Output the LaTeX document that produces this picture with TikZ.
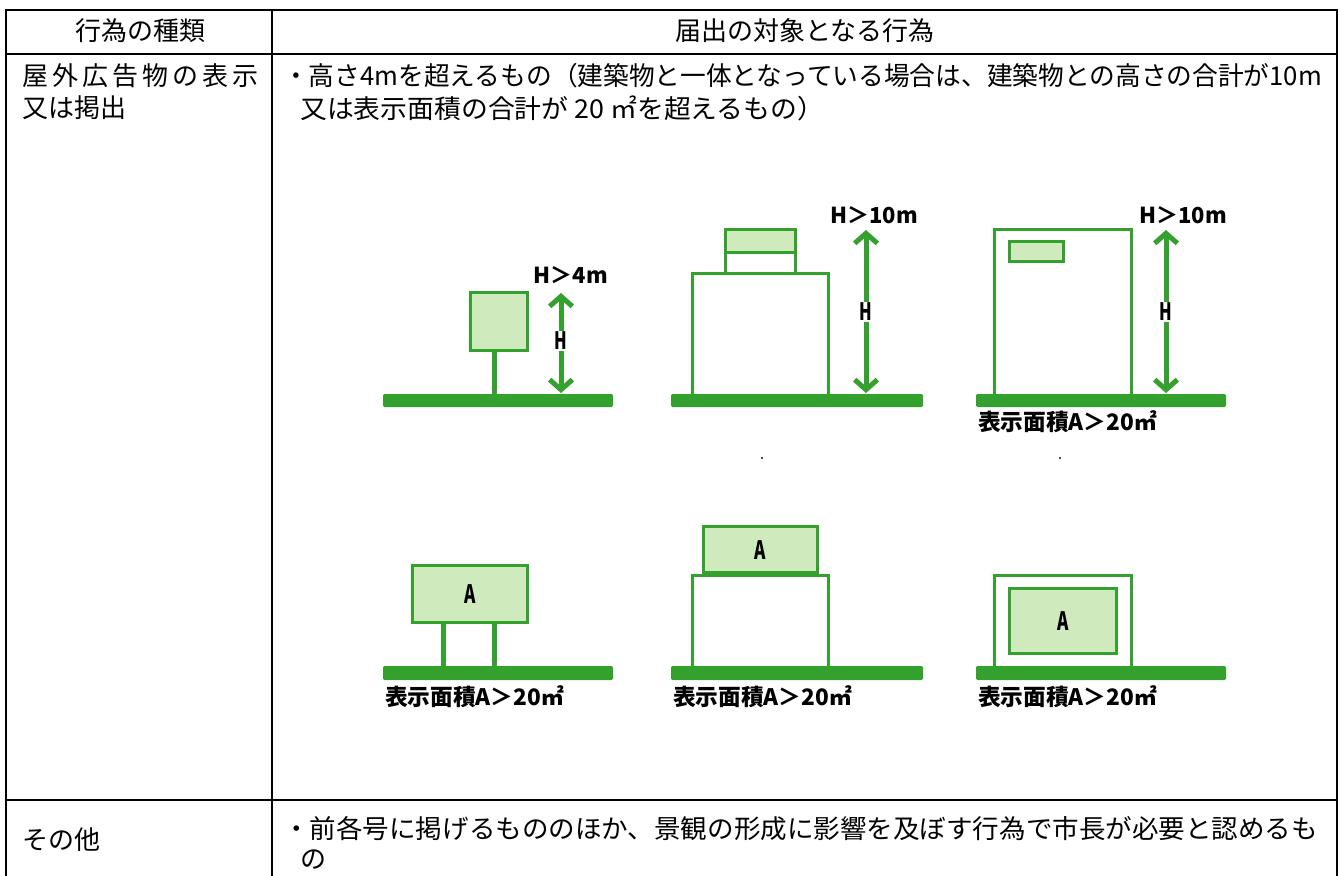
\documentclass[tikz,border=0pt]{standalone}
\usepackage{fontspec}
\setmainfont{Noto Sans CJK JP}
\usetikzlibrary{arrows.meta}
\definecolor{gr}{RGB}{52,160,46}
\definecolor{lg}{RGB}{207,235,189}
\tikzset{
  tbl/.style={line width=1.5pt, draw=black},
  tx/.style={font=\fontsize{19.5}{20}\selectfont, inner sep=0pt, anchor=west},
  hd/.style={font=\fontsize{19.5}{20}\selectfont, inner sep=0pt},
  gbar/.style={fill=gr, rounded corners=1pt},
  bld/.style={draw=gr, line width=2.25pt, fill=white},
  sgn/.style={draw=gr, line width=2.25pt, fill=lg},
  pst/.style={draw=gr, line width=3.75pt},
  conn/.style={draw=gr, line width=1.5pt},
  harrow/.style={draw=gr, line width=3.75pt, {Straight Barb[length=7.5pt,width=17pt]}-{Straight Barb[length=7.5pt,width=17pt]}},
  hl/.style={fill=white, inner xsep=0.5pt, inner ysep=1pt, font=\bfseries\fontsize{18}{18}\selectfont},
  al/.style={inner sep=0pt, font=\bfseries\fontsize{19}{19}\selectfont},
  hv/.style={inner sep=0pt, font=\bfseries\fontsize{16.5}{16.5}\selectfont},
  lbl/.style={inner sep=0pt, anchor=west, font=\bfseries\fontsize{17}{17}\selectfont},
  speck/.style={fill=black!70}
}
\newcommand{\nar}[1]{\scalebox{0.68}[1]{#1}}
\newcommand{\fitw}[2]{\resizebox{#1}{\height}{#2}}
\begin{document}
\begin{tikzpicture}[x=0.75pt, y=-0.75pt]
\useasboundingbox (0,0) rectangle (1341,875);
% ---------- table ----------
\draw[tbl] (6,880) -- (6,10) -- (1337,10) -- (1337,880);
\draw[tbl] (6,54) -- (1337,54);
\draw[tbl] (6,800) -- (1337,800);
\draw[tbl] (272,10) -- (272,880);
\node[hd] (h1) at (140,31) {行為の種類};
\node[hd] (h2) at (805,31) {届出の対象となる行為};
\node[tx] (c1a) at (22,76) {\makebox[177pt][l]{屋\hfill 外\hfill 広\hfill 告\hfill 物\hfill の\hfill 表\hfill 示}};
\node[tx] (c1b) at (22,108) {又は掲出};
\node[tx] (t1a) at (283,76) {\fitw{779pt}{・高さ4mを超えるもの（建築物と一体となっている場合は、建築物との高さの合計が10m}};
\node[tx] (t1b) at (300,108) {\fitw{393pt}{又は表示面積の合計が 20 ㎡を超えるもの）}};
\node[tx] (c2) at (22,840) {その他};
\node[tx] (t2a) at (283,829) {\fitw{776pt}{・前各号に掲げるもののほか、景観の形成に影響を及ぼす行為で市長が必要と認めるも}};
\node[tx] (t2b) at (300,860) {の};
% ---------- panel 1 ----------
\draw[pst] (494,350) -- (494,395);
\draw[sgn] (470,292) rectangle (527,350);
\fill[gbar] (383,394) rectangle (613,407);
\coordinate (a1t) at (561,293);
\coordinate (a1b) at (561,393);
\draw[harrow] (a1b) -- (a1t);
\node[hl] (H1) at (561,341) {\nar{H}};
\node[hv] (L1) at (571,275) {H＞4m};
% ---------- panel 2 ----------
\draw[bld] (692,273) rectangle (828,396);
\draw[bld] (725,252) rectangle (795,273);
\draw[sgn] (725,229) rectangle (795,252);
\fill[gbar] (671,394) rectangle (923,407);
\coordinate (a2t) at (866,230);
\coordinate (a2b) at (866,393);
\draw[harrow] (a2b) -- (a2t);
\node[hl] (H2) at (866,312) {\nar{H}};
\node[hv] (L2) at (874,215) {H＞10m};
\fill[speck] (761,457) rectangle (763,458.5);
% ---------- panel 3 ----------
\draw[bld] (994,229) rectangle (1131,396);
\draw[sgn] (1009,241) rectangle (1063,261);
\fill[gbar] (976,394) rectangle (1226,407);
\coordinate (a3t) at (1166,230);
\coordinate (a3b) at (1166,393);
\draw[harrow] (a3b) -- (a3t);
\node[hl] (H3) at (1166,312) {\nar{H}};
\node[hv] (L3) at (1183,215) {H＞10m};
\node[lbl] (S3) at (978,422) {表示面積A＞20㎡};
\fill[speck] (1059,457) rectangle (1061,458.5);
% ---------- panel 4 ----------
\draw[pst] (443,622) -- (443,667);
\draw[pst] (494,622) -- (494,667);
\draw[sgn] (412,565) rectangle (527,622);
\node[al] (A4) at (470,594) {\nar{A}};
\fill[gbar] (383,666) rectangle (613,680);
\node[lbl] (S4) at (385,697) {表示面積A＞20㎡};
% ---------- panel 5 ----------
\draw[bld] (692,575) rectangle (828,668);
\draw[conn] (727,572) -- (727,575);
\draw[conn] (794,572) -- (794,575);
\draw[sgn] (703,526) rectangle (817,572);
\node[al] (A5) at (760,550) {\nar{A}};
\fill[gbar] (671,666) rectangle (923,680);
\node[lbl] (S5) at (673,697) {表示面積A＞20㎡};
% ---------- panel 6 ----------
\draw[bld] (994,575) rectangle (1131,668);
\draw[sgn] (1009,588) rectangle (1116,653);
\node[al] (A6) at (1063,621) {\nar{A}};
\fill[gbar] (976,666) rectangle (1226,680);
\node[lbl] (S6) at (978,697) {表示面積A＞20㎡};
\end{tikzpicture}
\end{document}
